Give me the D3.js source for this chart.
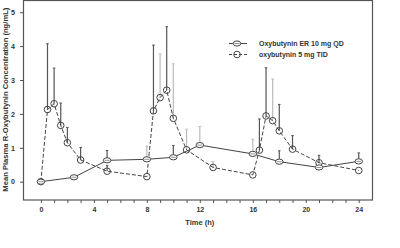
<!DOCTYPE html>
<html>
<head>
<meta charset="utf-8">
<script src="https://cdn.jsdelivr.net/npm/d3@7"></script>
<style>
  body { margin: 0; background: #fff; }
  svg { display: block; font-family: "Liberation Sans", Arial, sans-serif; }
  .tick text { font-size: 7px; font-weight: bold; fill: #333; }
  .tick line { stroke: #555; }
</style>
</head>
<body>
<div id="chart"></div>
<script>
// === data ===
const erTime = [0, 2.5, 5, 8, 10, 12, 16, 18, 21, 24];
const erMean = [0, 0.13, 0.63, 0.66, 0.72, 1.08, 0.82, 0.59, 0.42, 0.6];
const erSD   = [0, 0.02, 0.29, 0.39, 0.35, 0.55, 0.43, 0.32, 0.05, 0.25];

const irTime = [0, 0.5, 1, 1.5, 2, 3, 5, 8, 8.5, 9, 9.5, 10, 11, 13, 16, 16.5, 17, 17.5, 18, 19, 21, 24];
const irMean = [0, 2.13, 2.3, 1.66, 1.15, 0.64, 0.31, 0.15, 2.09, 2.48, 2.7, 1.87, 0.94, 0.42, 0.2, 0.93, 1.94, 1.8, 1.5, 0.96, 0.56, 0.33];
const irSD   = [0, 1.94, 1.05, 0.66, 0.45, 0.37, 0.17, 0.03, 1.94, 1.29, 1.87, 1.61, 0.61, 0.17, 0.03, 0.92, 1.42, 1.23, 0.78, 0.4, 0.22, 0.03];

// which error bars are printed light grey
const erLight = [3, 5, 6];
const irLight = [9, 11, 12, 13, 17];

const xTicks = d3.range(0, 25, 1);
const yTicks = [0, 1, 2, 3, 4, 5];
const legendLabels = ["Oxybutynin ER  10 mg QD", "oxybutynin 5 mg TID"];

// === layout ===
const W = 400, H = 248;
const plotL = 23, plotR = 372, plotT = 0.5, plotB = 200;

const svg = d3.select("#chart").append("svg")
    .attr("width", W).attr("height", H);

const x = d3.scaleLinear().domain([-1.35, 25.0]).range([plotL, plotR]);
const y = d3.scaleLinear().domain([-0.54, 5.36]).range([plotB, 0]);

// axes
const xAxis = svg.append("g")
    .attr("transform", `translate(0,${plotB})`)
    .call(d3.axisBottom(x).tickValues(xTicks).tickSize(3).tickPadding(4)
        .tickFormat(d => d % 4 === 0 ? d : ""));
xAxis.select(".domain").remove();

const yAxis = svg.append("g")
    .attr("transform", `translate(${plotL},0)`)
    .call(d3.axisLeft(y).tickValues(yTicks).tickSize(3).tickPadding(5)
        .tickFormat(d3.format("d")));
yAxis.select(".domain").remove();

// frame
svg.append("rect")
    .attr("x", plotL + 0.5).attr("y", plotT)
    .attr("width", plotR - plotL).attr("height", plotB - plotT)
    .attr("fill", "none").attr("stroke", "#555").attr("stroke-width", 1.2);

// axis titles
svg.append("text")
    .attr("x", (x(0) + x(24)) / 2).attr("y", 225)
    .attr("text-anchor", "middle")
    .style("font-size", "7.5px").style("font-weight", "bold").style("fill", "#333")
    .text("Time (h)");

svg.append("text")
    .attr("transform", `translate(8,${y(2.42)}) rotate(-90)`)
    .attr("text-anchor", "middle")
    .attr("textLength", 184).attr("lengthAdjust", "spacingAndGlyphs")
    .style("font-size", "6.8px").style("font-weight", "bold").style("fill", "#333")
    .text("Mean Plasma R-Oxybutynin Concentration (ng/mL)");

// error bars
function errorBars(times, means, sds, light) {
    const g = svg.append("g");
    times.forEach((t, i) => {
        if (sds[i] <= 0.04) return;
        const c = light.includes(i) ? "#bbb" : "#555";
        g.append("line")
            .attr("x1", x(t)).attr("x2", x(t))
            .attr("y1", y(means[i])).attr("y2", y(means[i] + sds[i]))
            .attr("stroke", c).attr("stroke-width", 1.2);
        g.append("line")
            .attr("x1", x(t) - 1.3).attr("x2", x(t) + 1.3)
            .attr("y1", y(means[i] + sds[i])).attr("y2", y(means[i] + sds[i]))
            .attr("stroke", c).attr("stroke-width", 1);
    });
}
errorBars(erTime, erMean, erSD, erLight);
errorBars(irTime, irMean, irSD, irLight);

// lines
const line = d3.line().x(d => x(d[0])).y(d => y(d[1]));

svg.append("path")
    .datum(irTime.map((t, i) => [t, irMean[i]]))
    .attr("d", line)
    .attr("fill", "none").attr("stroke", "#444").attr("stroke-width", 1)
    .attr("stroke-dasharray", "4,2");

svg.append("path")
    .datum(erTime.map((t, i) => [t, erMean[i]]))
    .attr("d", line)
    .attr("fill", "none").attr("stroke", "#444").attr("stroke-width", 1);

// markers
function erMarker(g, cx, cy) {
    g.append("ellipse").attr("cx", cx).attr("cy", cy).attr("rx", 3.8).attr("ry", 2.6)
        .attr("fill", "#fff").attr("stroke", "#444").attr("stroke-width", 1);
    g.append("line").attr("x1", cx - 2.5).attr("x2", cx + 2.5).attr("y1", cy).attr("y2", cy)
        .attr("stroke", "#777").attr("stroke-width", 0.8);
}
function irMarker(g, cx, cy) {
    g.append("circle").attr("cx", cx).attr("cy", cy).attr("r", 3.3)
        .attr("fill", "none").attr("stroke", "#444").attr("stroke-width", 1);
}

const mk = svg.append("g");
irTime.forEach((t, i) => irMarker(mk, x(t), y(irMean[i])));
erTime.forEach((t, i) => erMarker(mk, x(t), y(erMean[i])));

// legend
const lg = svg.append("g");
const rows = [43.5, 54.5];
lg.append("line").attr("x1", 229).attr("x2", 247).attr("y1", rows[0]).attr("y2", rows[0])
    .attr("stroke", "#444").attr("stroke-width", 1);
erMarker(lg, 237, rows[0]);
lg.append("line").attr("x1", 229).attr("x2", 247).attr("y1", rows[1]).attr("y2", rows[1])
    .attr("stroke", "#444").attr("stroke-width", 1).attr("stroke-dasharray", "3,2");
irMarker(lg, 237, rows[1]);
legendLabels.forEach((lab, i) => {
    lg.append("text")
        .attr("x", 259).attr("y", rows[i] + 2.5)
        .style("font-size", "7px").style("font-weight", "bold").style("fill", "#333")
        .text(lab);
});
</script>
</body>
</html>
